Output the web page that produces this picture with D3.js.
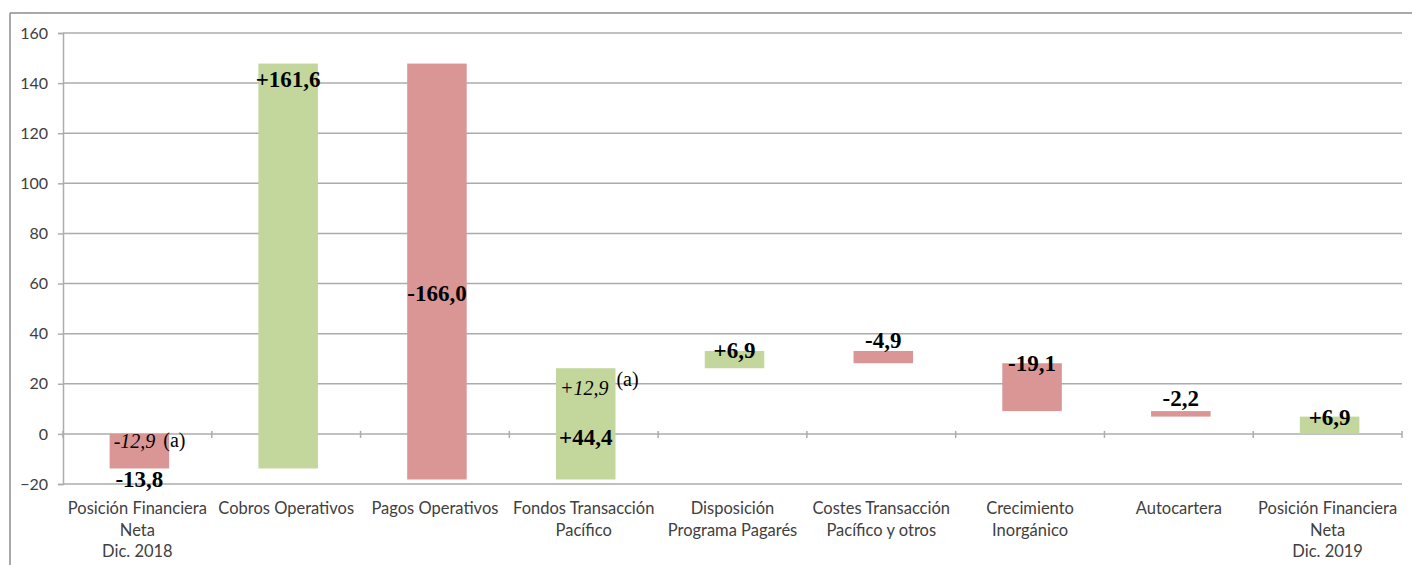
<!DOCTYPE html>
<meta charset="utf-8">
<script src="https://d3js.org/d3.v7.min.js"></script>
<style>
  body { margin: 0; background: #fff; }
  .tick text { font-family: Lato, "Noto Sans", sans-serif; font-size: 16px; fill: #404040; }
  .cat { font-family: Lato, "Noto Sans", sans-serif; font-size: 16.5px; fill: #404040; }
  .val { font-family: "Liberation Serif", "Times New Roman", serif; font-size: 23px; font-weight: bold; fill: #000; }
  .note { font-family: "Liberation Serif", "Times New Roman", serif; font-size: 20px; fill: #000; }
</style>
<body>
<div id="chart"></div>
<script>

// categories (each one split in its text lines)
var categories = [
  ["Posición Financiera", "Neta", "Dic. 2018"],
  ["Cobros Operativos"],
  ["Pagos Operativos"],
  ["Fondos Transacción", "Pacífico"],
  ["Disposición", "Programa Pagarés"],
  ["Costes Transacción", "Pacífico y otros"],
  ["Crecimiento", "Inorgánico"],
  ["Autocartera"],
  ["Posición Financiera", "Neta", "Dic. 2019"]
];
var deltas = [-13.8, 161.6, -166.0, 44.4, 6.9, -4.9, -19.1, -2.2, 6.9];
var isTotal = [true, false, false, false, false, false, false, false, true];
var valueLabels = ["-13,8", "+161,6", "-166,0", "+44,4", "+6,9", "-4,9", "-19,1", "-2,2", "+6,9"];
// where each value label sits, in chart units
var labelAt = [-18, 141.6, 56.4, -1.2, 33.6, 37.6, 28.4, 14.4, 6.8];
// italic notes "(a)"
var notes = [
  {index: 0, text: "-12,9", at: -2.8, raise: 1},
  {index: 3, text: "+12,9", at: 18.4, raise: 9}
];
var yTicks = [-20, 0, 20, 40, 60, 80, 100, 120, 140, 160];

var width = 1412, height = 565;
var plot = {left: 63, right: 1402, top: 33, bottom: 484};

var svg = d3.select("#chart").append("svg")
  .attr("width", width)
  .attr("height", height);

// frame of the slide object
svg.append("line").attr("x1", 10).attr("x2", width).attr("y1", 13).attr("y2", 13)
  .attr("stroke", "#8c8c8c").attr("stroke-width", 1.5);
svg.append("line").attr("x1", 10).attr("x2", 10).attr("y1", 13).attr("y2", height)
  .attr("stroke", "#8c8c8c").attr("stroke-width", 1.5);

var x = d3.scaleBand()
  .domain(d3.range(categories.length))
  .range([plot.left + 2, plot.right + 2])
  .paddingInner(0.6)
  .paddingOuter(0.3);

var y = d3.scaleLinear()
  .domain([-20, 160])
  .range([plot.bottom, plot.top]);

// gridlines
svg.append("g")
  .selectAll("line")
  .data(yTicks)
  .enter().append("line")
    .attr("x1", plot.left).attr("x2", plot.right)
    .attr("y1", function(d) { return y(d); })
    .attr("y2", function(d) { return y(d); })
    .attr("stroke", "#acacac")
    .attr("stroke-width", 1.5);

// y axis
var yAxis = svg.append("g")
  .attr("transform", "translate(" + plot.left + ",0)")
  .call(d3.axisLeft(y).tickValues(yTicks).tickSize(5).tickPadding(10).tickFormat(d3.format("d")));
yAxis.select(".domain").attr("stroke", "#acacac").attr("stroke-width", 1.5);
yAxis.selectAll(".tick line").attr("stroke", "#acacac").attr("stroke-width", 1.5);

// category tick marks on the zero line
var step = x.step();
svg.append("g")
  .selectAll("line")
  .data(d3.range(categories.length + 1))
  .enter().append("line")
    .attr("x1", function(i) { return plot.left + i * step; })
    .attr("x2", function(i) { return plot.left + i * step; })
    .attr("y1", y(0) - 3)
    .attr("y2", y(0) + 4)
    .attr("stroke", "#acacac")
    .attr("stroke-width", 1.5);

// waterfall bars
var running = 0;
var bars = deltas.map(function(d, i) {
  var start = isTotal[i] ? 0 : running;
  var end = start + d;
  running = end;
  return {i: i, start: start, end: end, value: d};
});

svg.append("g")
  .selectAll("rect")
  .data(bars)
  .enter().append("rect")
    .attr("x", function(d) { return x(d.i); })
    .attr("width", x.bandwidth())
    .attr("y", function(d) { return y(Math.max(d.start, d.end)); })
    .attr("height", function(d) { return Math.abs(y(d.start) - y(d.end)); })
    .attr("fill", function(d) { return d.value >= 0 ? "#c3d69b" : "#d99694"; });

// value labels
svg.append("g")
  .selectAll("text")
  .data(bars)
  .enter().append("text")
    .attr("class", "val")
    .attr("x", function(d) { return x(d.i) + x.bandwidth() / 2; })
    .attr("y", function(d) { return y(labelAt[d.i]); })
    .attr("dy", "0.35em")
    .attr("text-anchor", "middle")
    .text(function(d) { return valueLabels[d.i]; });

// notes
notes.forEach(function(n) {
  var t = svg.append("text")
    .attr("class", "note")
    .attr("x", x(n.index) + 4)
    .attr("y", y(n.at))
    .attr("dy", "0.35em");
  t.append("tspan").style("font-style", "italic").text(n.text);
  t.append("tspan").attr("dx", 8).attr("dy", -n.raise).text("(a)");
});

// category labels
var cat = svg.append("g")
  .selectAll("text")
  .data(categories)
  .enter().append("text")
    .attr("class", "cat")
    .attr("text-anchor", "middle")
    .attr("x", function(d, i) { return plot.left + (i + 0.5) * step; })
    .attr("y", 514);
cat.selectAll("tspan")
  .data(function(d) { return d; })
  .enter().append("tspan")
    .attr("x", function() { return d3.select(this.parentNode).attr("x"); })
    .attr("dy", function(d, j) { return j === 0 ? 0 : 21.5; })
    .text(function(d) { return d; });

</script>
</body>
